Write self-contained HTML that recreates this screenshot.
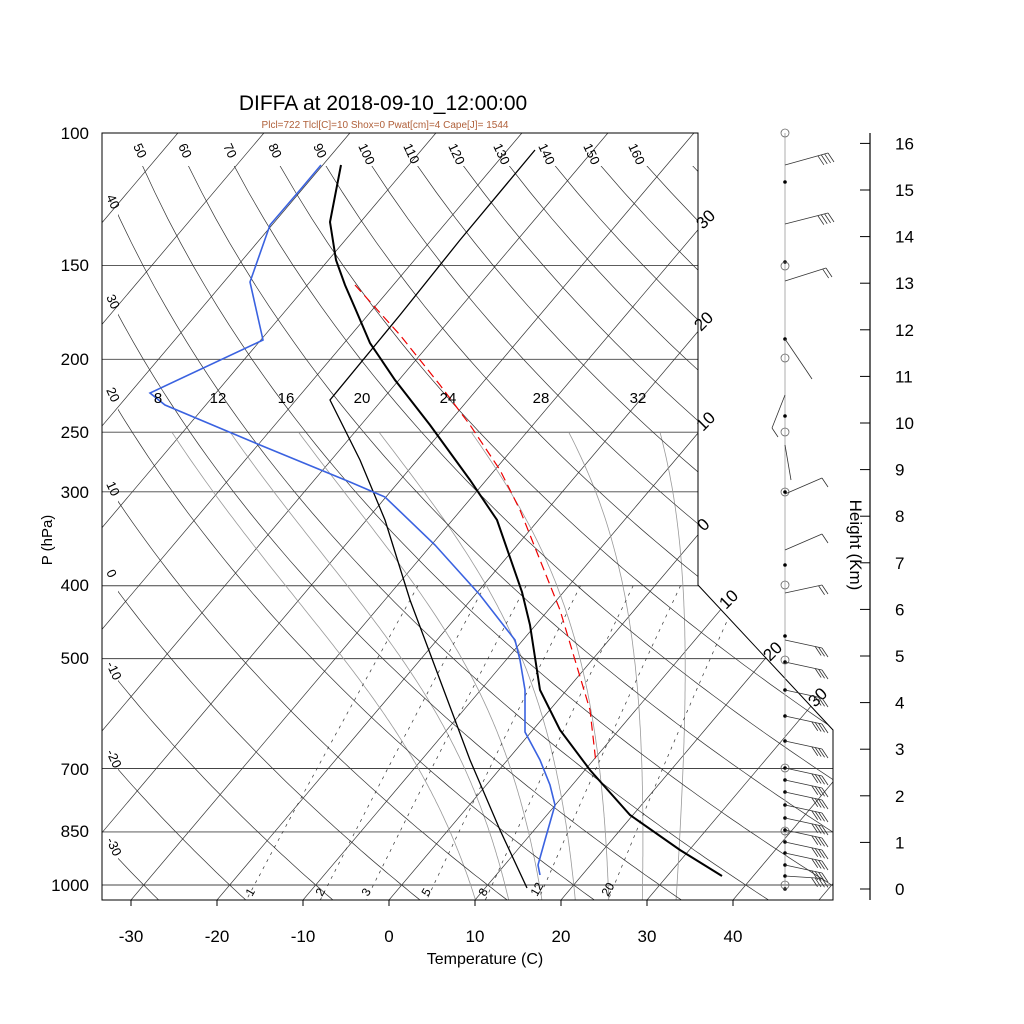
<!DOCTYPE html>
<html><head><meta charset="utf-8">
<style>
html,body{margin:0;padding:0;background:#fff;}
svg{display:block;font-family:"Liberation Sans",sans-serif;}
</style></head>
<body>
<svg id="s" width="1024" height="1024" viewBox="0 0 1024 1024" xmlns="http://www.w3.org/2000/svg">
<defs>
<clipPath id="cp"><polygon points="102,133 698,133 698,585 833,730 833,900 102,900"/></clipPath>
<clipPath id="cd"><polygon points="118,166 698,166 698,585 833,730 833,900 118,900"/></clipPath>
</defs>
<rect width="1024" height="1024" fill="#fff"/>
<g id="grid" clip-path="url(#cp)"></g>
<g id="dry" clip-path="url(#cd)"></g>
<g id="data" clip-path="url(#cp)"></g>
<polygon points="102,133 698,133 698,585 833,730 833,900 102,900" fill="none" stroke="#000" stroke-width="1"/>

<text x="383" y="110" font-size="21" text-anchor="middle">DIFFA at 2018-09-10_12:00:00</text>
<text x="385" y="128" font-size="10" text-anchor="middle" fill="#b0603a">Plcl=722 Tlcl[C]=10 Shox=0 Pwat[cm]=4 Cape[J]= 1544</text>

<g font-size="17" text-anchor="end">
<text x="89" y="139">100</text><text x="89" y="271">150</text><text x="89" y="365">200</text>
<text x="89" y="438">250</text><text x="89" y="498">300</text><text x="89" y="591">400</text>
<text x="89" y="664">500</text><text x="89" y="775">700</text><text x="89" y="837">850</text>
<text x="89" y="891">1000</text>
</g>
<text transform="translate(52,540) rotate(-90)" font-size="15" text-anchor="middle">P (hPa)</text>
<g font-size="17" text-anchor="middle">
<text x="131" y="942">-30</text><text x="217" y="942">-20</text><text x="303" y="942">-10</text>
<text x="389" y="942">0</text><text x="475" y="942">10</text><text x="561" y="942">20</text>
<text x="647" y="942">30</text><text x="733" y="942">40</text>
</g>
<g stroke="#000" stroke-width="1">
<line x1="131" y1="900" x2="131" y2="906"/><line x1="217" y1="900" x2="217" y2="906"/><line x1="303" y1="900" x2="303" y2="906"/><line x1="389" y1="900" x2="389" y2="906"/><line x1="475" y1="900" x2="475" y2="906"/><line x1="561" y1="900" x2="561" y2="906"/><line x1="647" y1="900" x2="647" y2="906"/><line x1="733" y1="900" x2="733" y2="906"/>
</g>
<text x="485" y="964" font-size="16" text-anchor="middle">Temperature (C)</text>

<g font-size="13" id="toplab"></g>
<g font-size="15" text-anchor="middle">
<text x="158" y="403">8</text><text x="218" y="403">12</text><text x="286" y="403">16</text>
<text x="362" y="403">20</text><text x="448" y="403">24</text><text x="541" y="403">28</text><text x="638" y="403">32</text>
</g>
<g font-size="17" id="isolab"></g>
<g font-size="12" id="mrlab"></g>

<line x1="870" y1="133" x2="870" y2="900" stroke="#000" stroke-width="1.2"/>
<g id="hax" font-size="17"></g>
<text transform="translate(850,545) rotate(90)" font-size="17" text-anchor="middle">Height (Km)</text>
<line x1="785" y1="133" x2="785" y2="890" stroke="#999" stroke-width="0.8"/>
<g id="barbs" stroke="#333" stroke-width="0.8" fill="none"></g>
</svg>
<script>
(function(){
var NS="http://www.w3.org/2000/svg";
function el(par,tag,at,txt){var e=document.createElementNS(NS,tag);for(var k in at)e.setAttribute(k,at[k]);if(txt!==undefined)e.textContent=txt;document.getElementById(par).appendChild(e);return e;}
function yP(p){return 885-326.6*Math.log(1000/p);}
function xT(T,p){return 389+8.6*T+0.846*(900-yP(p));}
function path(pts){return "M"+pts.map(function(q){return q[0].toFixed(1)+","+q[1].toFixed(1);}).join("L");}
[150,200,250,300,400,500,700,850,1000].forEach(function(p){el("grid","line",{x1:102,x2:840,y1:yP(p),y2:yP(p),stroke:"#444","stroke-width":0.9});});
for(var T=-160;T<=60;T+=10){el("grid","line",{x1:xT(T,1050),y1:yP(1050),x2:xT(T,100),y2:yP(100),stroke:"#333","stroke-width":0.7});}
for(var th=-30;th<=170;th+=10){var pts=[];for(var p=100;p<=1050;p+=10){var t=(th+273.15)*Math.pow(p/1000,0.2857)-273.15;pts.push([xT(t,p),yP(p)]);}
el("dry","path",{d:path(pts),fill:"none",stroke:"#333","stroke-width":0.7});}
function es(t){return 6.112*Math.exp(17.67*t/(t+243.5));}
function rs(t,p){var e=es(t);return 0.622*e/(p-e);}
for(var tw=8;tw<=32;tw+=4){var pts=[];
 var tt=tw,pp=1000;
 while(pp<1050){var TK=tt+273.15,r=rs(tt,pp);var dT=(287*TK+2.5e6*r)/(1004+2.5e6*2.5e6*r*0.622/(287*TK*TK))/pp;tt+=dT*5;pp+=5;}
 pts.push([xT(tt,pp),yP(pp)]);
 while(pp>250){var TK=tt+273.15,r=rs(tt,pp);var dT=(287*TK+2.5e6*r)/(1004+2.5e6*2.5e6*r*0.622/(287*TK*TK))/pp;tt-=dT*5;pp-=5;pts.unshift([xT(tt,pp),yP(pp)]);}
 el("grid","path",{d:path(pts),fill:"none",stroke:"#999","stroke-width":0.8});}
[1,2,3,5,8,12,20].forEach(function(w){var pts=[];for(var p=400;p<=1050;p+=10){var e=w*p/(622+w),l=Math.log(e/6.112),td=243.5*l/(17.67-l);pts.push([xT(td,p),yP(p)]);}
el("grid","path",{d:path(pts),fill:"none",stroke:"#333","stroke-width":0.7,"stroke-dasharray":"3,5"});});
function pl(pts,at){at.d="M"+pts.map(function(q){return q.join(",");}).join("L");at.fill="none";el("data","path",at);}
pl([[535,150],[460,240],[400,315],[330,400],[360,460],[385,520],[410,600],[440,680],[470,760],[500,830],[527,888]],{stroke:"#000","stroke-width":1.3});
pl([[341,165],[330,222],[336,260],[345,285],[355,308],[370,343],[395,380],[430,425],[470,480],[497,520],[522,592],[530,625],[540,690],[560,730],[590,770],[630,815],[680,850],[722,876]],{stroke:"#000","stroke-width":2});
pl([[355,285],[400,335],[440,385],[470,425],[500,470],[520,510],[540,560],[560,610],[575,660],[590,710],[596,763]],{stroke:"#e00","stroke-width":1.2,"stroke-dasharray":"9,5"});
pl([[321,165],[300,190],[270,225],[250,282],[263,340],[150,393],[165,405],[260,445],[350,482],[385,497],[435,545],[480,595],[515,640],[520,660],[525,690],[525,732],[540,760],[550,785],[555,805],[545,840],[538,865],[540,875]],{stroke:"#3a62e0","stroke-width":1.6});
var tl=[50,60,70,80,90,100,110,120,130,140,150,160];
tl.forEach(function(v,i){var x=133+45*i;el("toplab","text",{transform:"translate("+x+",146) rotate(65)"},String(v));});
[["40",205],["30",305],["20",398],["10",492],["0",580],["-10",672],["-20",760],["-30",848]].forEach(function(a){el("toplab","text",{transform:"translate(106,"+(a[1]-8)+") rotate(65)"},a[0]);});
[["30",703,230],["20",701,332],["10",703,432],["0",704,532],["10",726,610],["20",770,662],["30",815,708]].forEach(function(a){el("isolab","text",{transform:"translate("+a[1]+","+a[2]+") rotate(-45)"},a[0]);});
[["1",252],["2",322],["3",368],["5",428],["8",485],["12",537],["20",608]].forEach(function(a){el("mrlab","text",{transform:"translate("+a[1]+",897) rotate(-60)"},a[0]);});
for(var k=0;k<=16;k++){var y=889-46.6*k;el("hax","line",{x1:860,x2:870,y1:y,y2:y,stroke:"#000","stroke-width":1});el("hax","text",{x:895,y:y+6},String(k));}
[182,262,339,416,492,565,636,662,690,716,741,768,780,792,805,818,830,842,853,865,876,889].forEach(function(y){el("barbs","circle",{cx:785,cy:y,r:1.8,fill:"#000",stroke:"none"});});
[133,266,358,432,492,585,660,768,831,885].forEach(function(y){el("barbs","circle",{cx:785,cy:y,r:4,fill:"none",stroke:"#666"});});
function barb(y0,x1,y1,n){el("barbs","line",{x1:785,y1:y0,x2:x1,y2:y1});
 var dx=x1-785,dy=y1-y0,L=Math.sqrt(dx*dx+dy*dy),ux=dx/L,uy=dy/L;
 for(var i=0;i<n;i++){var px=x1-ux*i*3.5,py=y1-uy*i*3.5;el("barbs","line",{x1:px,y1:py,x2:px+6,y2:py+9});}}
barb(165,828,153,4);barb(224,828,213,4);barb(281,826,268,2);barb(339,806,370,1);barb(395,772,428,1);barb(445,791,480,0);
barb(494,822,478,1);barb(550,822,534,1);barb(593,822,585,2);
[640,662,690,716,741,768,780,792,805,818,830,842,853,865,876].forEach(function(y,i){var ye=y+Math.min(8,(880-y)*0.6);barb(y,822,ye,i<3?3:4);});
})();
</script>
</body></html>
